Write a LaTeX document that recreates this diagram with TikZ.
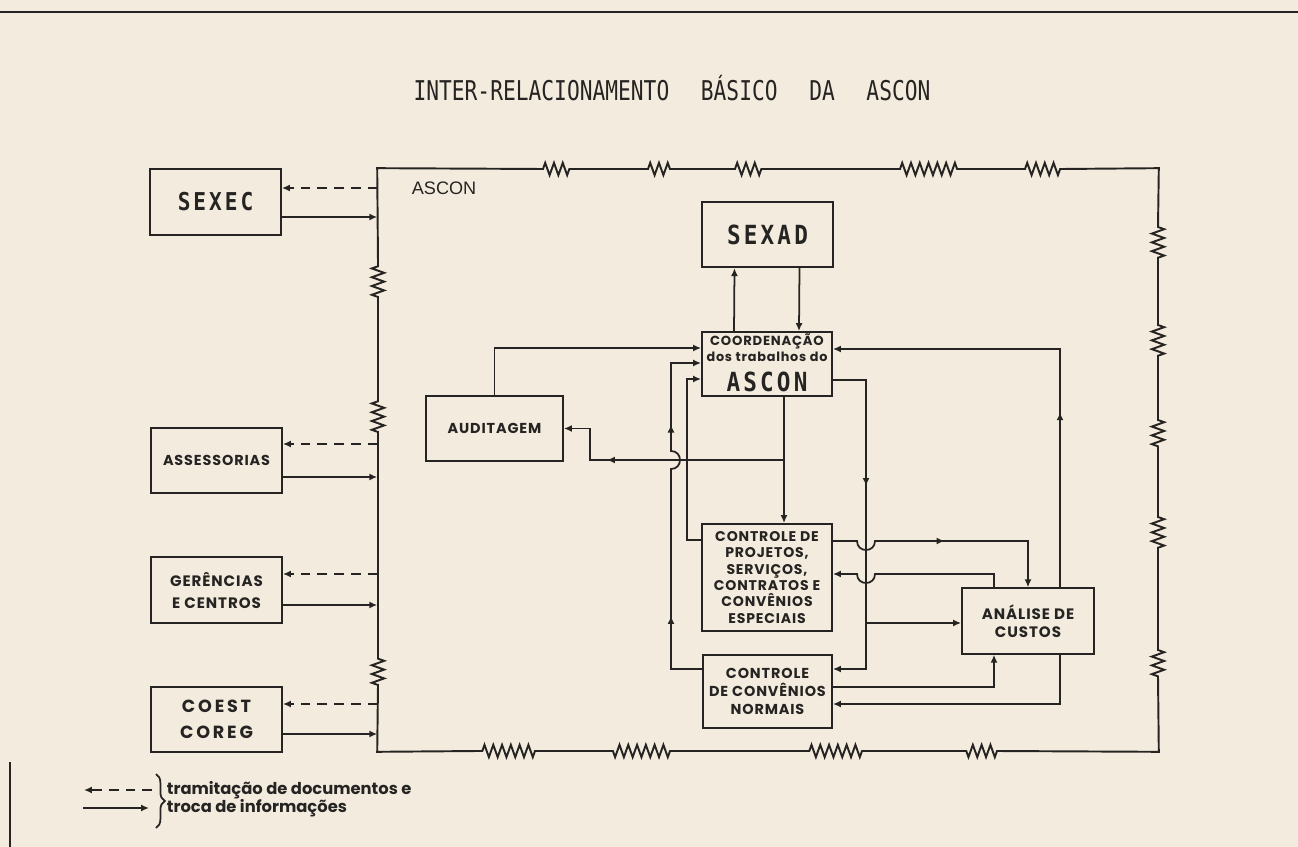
\documentclass[tikz,border=0pt]{standalone}
\usepackage{fontspec}
\usepackage{tikz}
\usetikzlibrary{arrows.meta,decorations.pathmorphing,decorations.pathreplacing,decorations.markings}
\setmainfont{Poppins}
\newfontfamily\geo[LetterSpace=6]{Poppins}
\newfontfamily\plotfont[FakeStretch=0.78]{DejaVu Sans Mono}
\newfontfamily\boxfont[FakeStretch=0.86,LetterSpace=12]{DejaVu Sans Mono}
\newfontfamily\helv{Liberation Sans}
\definecolor{paper}{RGB}{243,236,222}
\definecolor{ink}{RGB}{38,36,34}

\begin{document}
\begin{tikzpicture}[x=0.02cm,y=-0.02cm,line width=1pt,color=ink,
  box/.style={draw, line width=1.1pt, inner sep=0pt, minimum width=2.62cm, minimum height=1.31cm, align=center, font=\geo\bfseries\fontsize{8.2}{9.1}\selectfont},
  arr/.style={-{Latex[length=4.5pt,width=4pt]}},
  dline/.style={dash pattern=on 5.5pt off 4pt},
  midarr/.style={postaction={decorate,decoration={markings,mark=at position #1 with {\arrow{Latex[length=4.5pt,width=4pt]}}}}}]
  \fill[paper] (0,0) rectangle (1298,847);
  \useasboundingbox (0,0) rectangle (1298,847);
  \draw[line width=1.6pt] (0,12) -- (1298,12);
  \draw[line width=0.8pt] (10,762) -- (10,847);

  \node[font=\plotfont\fontsize{15.5}{18}\selectfont] (title) at (672,88) {INTER-RELACIONAMENTO\hspace{18pt}BÁSICO\hspace{18pt}DA\hspace{18pt}ASCON};

  % ASCON frame
  \node[inner sep=0pt, minimum width=15.6cm, minimum height=11.64cm] (ascon) at (768,460) {};
  \node[font=\helv\fontsize{10.3}{12}\selectfont, anchor=west, inner sep=0pt] (asconlbl) at (411,188) {ASCON};
  \draw[line width=1.1pt, decoration={zigzag, segment length=5pt, amplitude=3.5pt}]
    (ascon.north west) -- (543,169) decorate {-- (573,169)} -- (648,169) decorate {-- (670,169)}
    -- (735,169) decorate {-- (765,169)} -- (900,169) decorate {-- (960,169)}
    -- (1025,169) decorate {-- (1062,169)} -- (ascon.north east)
    -- (1158,227) decorate {-- (1158,260)} -- (1158,325) decorate {-- (1158,357)}
    -- (1158,420) decorate {-- (1158,450)} -- (1158,517) decorate {-- (1158,550)}
    -- (1158,650) decorate {-- (1158,677)} -- (ascon.south east)
    -- (997,751) decorate {-- (963,751)} -- (862,751) decorate {-- (805,751)}
    -- (670,751) decorate {-- (610,751)} -- (535,751) decorate {-- (478,751)}
    -- (ascon.south west)
    -- (378,685) decorate {-- (378,657)} -- (378,432) decorate {-- (378,400)}
    -- (378,297) decorate {-- (378,263)} -- cycle;

  % outside boxes
  \node[box, font=\boxfont\bfseries\fontsize{14}{16}\selectfont] (sexec) at (215.5,202) {SEXEC};
  \node[box] (assess) at (216.5,460.5) {ASSESSORIAS};
  \node[box, font=\geo\bfseries\fontsize{8.6}{12.5}\selectfont] (geren) at (216.5,590) {GERÊNCIAS\\E CENTROS};
  \node[box, font=\geo\bfseries\addfontfeature{LetterSpace=16}\fontsize{10}{15}\selectfont] (coest) at (216.5,719.5) {COEST\\COREG};

  \draw[arr,dline] (ascon.west |- 0,188) -- (sexec.east |- 0,188);
  \draw[arr] (sexec.east |- 0,217) -- (ascon.west |- 0,217);
  \draw[arr,dline] (ascon.west |- 0,444) -- (assess.east |- 0,444);
  \draw[arr] (assess.east |- 0,477) -- (ascon.west |- 0,477);
  \draw[arr,dline] (ascon.west |- 0,574) -- (geren.east |- 0,574);
  \draw[arr] (geren.east |- 0,605) -- (ascon.west |- 0,605);
  \draw[arr,dline] (ascon.west |- 0,704) -- (coest.east |- 0,704);
  \draw[arr] (coest.east |- 0,734) -- (ascon.west |- 0,734);

  % inside boxes
  \node[box, font=\boxfont\bfseries\fontsize{15}{16}\selectfont] (sexad) at (767.5,234.5) {SEXAD};
  \node[box, minimum width=2.6cm, minimum height=1.28cm] (coord) at (767,364) {};
  \node[anchor=base, inner sep=0pt, font=\geo\bfseries\fontsize{7.5}{8}\selectfont] (coordt) at (767,346) {COORDENAÇÃO};
  \node[anchor=base, inner sep=0pt, font=\geo\bfseries\fontsize{7.3}{8}\selectfont] (coordd) at (767,362) {dos trabalhos do};
  \node[anchor=base, inner sep=0pt, font=\boxfont\bfseries\fontsize{15}{16}\selectfont] (coorda) at (767,392) {ASCON};
  \node[box, minimum width=2.74cm] (audit) at (494.5,428.5) {AUDITAGEM};
  \node[box, minimum width=2.6cm, minimum height=2.14cm, font=\geo\bfseries\fontsize{8}{9.3}\selectfont] (cproj) at (767,577.5) {CONTROLE DE\\PROJETOS,\\SERVIÇOS,\\CONTRATOS E\\CONVÊNIOS\\ESPECIAIS};
  \node[box, minimum width=2.58cm, minimum height=1.46cm, font=\geo\bfseries\fontsize{8.2}{10.2}\selectfont] (cnorm) at (767.5,691.5) {CONTROLE\\DE CONVÊNIOS\\NORMAIS};
  \node[box, minimum width=2.64cm, font=\geo\bfseries\fontsize{8.6}{10.2}\selectfont] (analise) at (1028,621) {ANÁLISE DE\\CUSTOS};

  \coordinate (jaud) at (784,460);
  \coordinate (jana) at (866,623);

  \draw[arr] ([xshift=-0.66cm]coord.north) -- ([xshift=-0.66cm]sexad.south);
  \draw[arr] ([xshift=0.64cm]sexad.south) -- ([xshift=0.64cm]coord.north);
  \draw[arr] (audit.north) |- ([yshift=0.32cm]coord.west);
  \draw[arr] ([xshift=0.34cm]coord.south) -- ([xshift=0.34cm]cproj.north);
  \draw[arr,midarr=3.54cm] (jaud) -- (590,460) -- (590,428.5) -- (audit.east);
  \draw[arr,midarr=1.68cm,midarr=5.72cm] (cnorm.west |- 0,669) -- (671,669) -- (671,469)
    .. controls (683,469) and (683,451) .. (671,451) -- (671,363) -- (coord.west |- 0,363);
  \draw[arr] (cproj.west |- 0,540) -- (687,540) |- (coord.west |- 0,379);
  \draw[arr,midarr=2.78cm] (coord.east |- 0,380) -- (866,380) -- (866,669) -- (cnorm.east |- 0,669);
  \draw[arr] (jana) -- (jana -| analise.west);
  \draw[arr,midarr=2.44cm] (cproj.east |- 0,541) -- (857,541) .. controls (857,553) and (875,553) .. (875,541)
    -- (1028,541) -- (analise.north);
  \draw[arr] ([xshift=-0.68cm]analise.north) -- (994,574) -- (875,574)
    .. controls (875,586) and (857,586) .. (857,574) -- (cproj.east |- 0,574);
  \draw[arr] (cnorm.east |- 0,687) -- (994,687) -- ([xshift=-0.68cm]analise.south);
  \draw[arr] ([xshift=0.64cm]analise.south) -- (1060,704) -- (cnorm.east |- 0,704);
  \draw[arr,midarr=3.5cm] ([xshift=0.64cm]analise.north) -- (1060,349) -- (coord.east |- 0,349);

  % legend
  \coordinate (lgda) at (152,790);
  \coordinate (lgdb) at (84,790);
  \coordinate (lgsa) at (83,808);
  \coordinate (lgsb) at (149,808);
  \draw[arr,dline] (lgda) -- (lgdb);
  \draw[arr] (lgsa) -- (lgsb);
  \draw[decorate, decoration={brace, amplitude=5pt}] (156,774) -- (156,828);
  \node[anchor=west, align=left, inner sep=0pt, font=\bfseries\fontsize{9.3}{10.5}\selectfont] (legtxt) at (166,799)
    {tramitação de documentos e\\troca de informações};
\end{tikzpicture}
\end{document}
